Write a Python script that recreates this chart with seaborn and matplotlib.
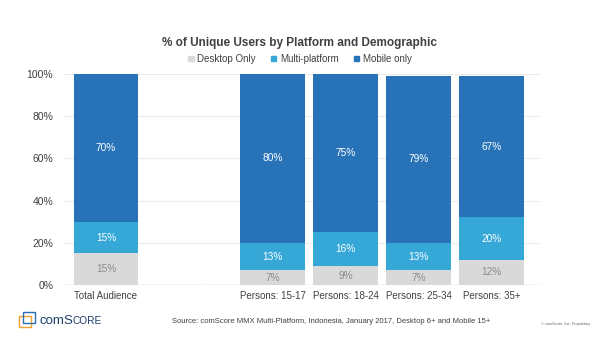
import numpy as np
import pandas as pd
import matplotlib
matplotlib.use("Agg")
import matplotlib.pyplot as plt
import matplotlib.patches as mpatches
import seaborn as sns

total_group = ["Total Audience"]
person_groups = ["Persons: 15-17", "Persons: 18-24", "Persons: 25-34", "Persons: 35+"]
groups = total_group + person_groups
desktop_only = [15, 7, 9, 7, 12]
multi_platform = [15, 13, 16, 13, 20]
mobile_only = [70, 80, 75, 79, 67]
series_names = ["Desktop Only", "Multi-platform", "Mobile only"]
colors = ["#d9d9d9", "#35a8d8", "#2873b8"]
yticks = [0, 20, 40, 60, 80, 100]

sns.set_theme(style="white")
plt.rcParams['font.family'] = ['Liberation Sans', 'DejaVu Sans']

df = pd.DataFrame({"group": groups, "d": desktop_only, "m": multi_platform, "o": mobile_only})
df["c1"] = df["d"]
df["c2"] = df["d"] + df["m"]
df["c3"] = df["d"] + df["m"] + df["o"]

W, H = 600, 337
fig = plt.figure(figsize=(6, 3.37), dpi=100)
y0, y1 = 285, 74
ax1 = fig.add_axes([63 / W, 1 - y0 / H, (200 - 63) / W, (y0 - y1) / H])
ax2 = fig.add_axes([200 / W, 1 - y0 / H, (540 - 200) / W, (y0 - y1) / H], sharey=ax1)


def draw(ax, sub, order):
    for col, color in zip(["c3", "c2", "c1"], colors[::-1]):
        sns.barplot(data=sub, x="group", y=col, order=order, color=color,
                    width=0.88, saturation=1, ax=ax, zorder=3, errorbar=None, linewidth=0)
    ax.set_ylim(0, 100)
    ax.set_xlabel("")
    ax.set_ylabel("")
    ax.tick_params(axis="x", labelsize=7, colors="#404040", length=0, pad=4)
    for v in yticks[1:]:
        ax.axhline(v, color="#ececec", lw=0.8, zorder=1)
    ax.axhline(0, color="#d0d0d0", lw=1.0, zorder=4)
    for s in ax.spines.values():
        s.set_visible(False)
    pos = {c: i for i, c in enumerate(order)}
    for _, r in sub.iterrows():
        x = pos[r["group"]]
        ax.text(x, r["d"] / 2, f"{r['d']}%", ha="center", va="center", fontsize=7.3, color="#8a8a8a", zorder=5)
        ax.text(x, r["c1"] + r["m"] / 2, f"{r['m']}%", ha="center", va="center", fontsize=7.3, color="white", zorder=5)
        ax.text(x, r["c2"] + r["o"] / 2, f"{r['o']}%", ha="center", va="center", fontsize=7.3, color="white", zorder=5)


draw(ax1, df[df["group"].isin(total_group)], total_group)
draw(ax2, df[df["group"].isin(person_groups)], person_groups)

ax1.set_xlim(-43 / 73, (200 - 106) / 73)
ax2.set_xlim(-72.5 / 73, 3 + 48.5 / 73)
ax1.set_yticks(yticks)
ax1.set_yticklabels([f"{v}%" for v in yticks], fontsize=7.5, color="#404040")
ax1.tick_params(axis="y", length=0, pad=7)
ax2.tick_params(axis="y", left=False, labelleft=False)

fig.text(0.5, 0.872, "% of Unique Users by Platform and Demographic", ha="center", va="center",
         fontsize=8.5, fontweight="bold", color="#404040")

handles = [mpatches.Patch(color=c, label=n) for c, n in zip(colors, series_names)]
fig.legend(handles=handles, loc="center", bbox_to_anchor=(0.5, 0.825), ncol=3, frameon=False,
           fontsize=7, handlelength=0.55, handleheight=0.55, handletextpad=0.35, columnspacing=1.6,
           labelcolor="#404040")

fig.text(0.552, 0.045, "Source: comScore MMX Multi-Platform, Indonesia, January 2017, Desktop 6+ and Mobile 15+",
         ha="center", va="center", fontsize=5.5, color="#404040")
fig.text(0.942, 0.04, "\u00a9 comScore, Inc. Proprietary", ha="center", va="center", fontsize=2.8, color="#666666")

# logo
fig.patches.append(mpatches.Rectangle((0.032, 0.030), 0.020, 0.033, transform=fig.transFigure,
                                      fill=False, ec="#f0a030", lw=1.0))
fig.patches.append(mpatches.Rectangle((0.038, 0.042), 0.020, 0.033, transform=fig.transFigure,
                                      fill=False, ec="#2a6fb0", lw=1.0))
fig.canvas.draw()
renderer = fig.canvas.get_renderer()
x = 0.066
for part, size, gap in [("com", 9.5, -0.002), ("S", 9.5, 0.0), ("CORE", 7.3, 0)]:
    t = fig.text(x, 0.040, part, ha="left", va="baseline", fontsize=size, color="#1d3f6e")
    bb = t.get_window_extent(renderer)
    x += bb.width / fig.bbox.width + gap

fig.savefig("out.png", dpi=100)
